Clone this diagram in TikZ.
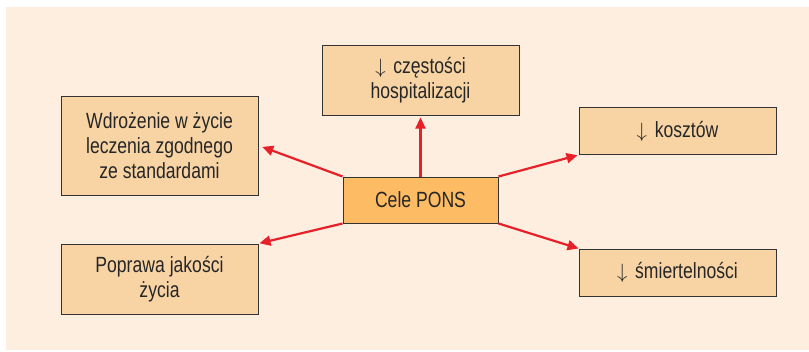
\documentclass[tikz,border=0pt]{standalone}
\usepackage{fontspec}
\setmainfont{Liberation Sans}[FakeStretch=0.8]
\usetikzlibrary{arrows.meta}
\definecolor{bgc}{HTML}{FDEEDF}
\definecolor{boxc}{HTML}{F8D4A5}
\definecolor{ctrc}{HTML}{FDBB63}
\definecolor{redc}{HTML}{E8202A}
\definecolor{edgec}{HTML}{333333}
\newcommand{\dn}{$\downarrow$\hspace{0.35em}}
\tikzset{
  goal/.style={draw=edgec, line width=1pt, fill=boxc, inner sep=0pt, align=center,
    font=\fontsize{22}{25}\selectfont, text=black!85},
  conn/.style={draw=redc, line width=2.2pt, -{Triangle[length=11pt,width=10pt]}}
}
\begin{document}
\begin{tikzpicture}[x=1pt,y=-1pt]
\useasboundingbox (0,0) rectangle (809,351);
\fill[white] (0,0) rectangle (809,351);
\fill[bgc] (6,7) rectangle (809,350);
\node[goal, fill=ctrc, minimum width=155pt, minimum height=46pt] (c) at (420.5,200) {Cele PONS};
\node[goal, minimum width=197pt, minimum height=99pt] (w) at (159.5,145.5) {Wdrożenie w życie\\leczenia zgodnego\\ze standardami};
\node[goal, minimum width=197pt, minimum height=70pt] (h) at (420.5,80) {\dn częstości\\hospitalizacji};
\node[goal, minimum width=197pt, minimum height=47pt] (k) at (677.5,131) {\dn kosztów};
\node[goal, minimum width=197pt, minimum height=70pt] (p) at (159.5,279) {Poprawa jakości\\życia};
\node[goal, minimum width=197pt, minimum height=47pt] (s) at (677.5,272.5) {\dn śmiertelności};
\draw[conn, shorten >=4pt] (c.north west) -- (w.east);
\draw[conn, shorten >=1pt] (c.south west) -- (p.north east);
\draw[conn, shorten >=2pt] (c.north) -- (h.south);
\draw[conn, shorten >=1pt] (c.north east) -- (k.south west);
\draw[conn, shorten >=0pt] (c.south east) -- (s.north west);
\end{tikzpicture}
\end{document}
